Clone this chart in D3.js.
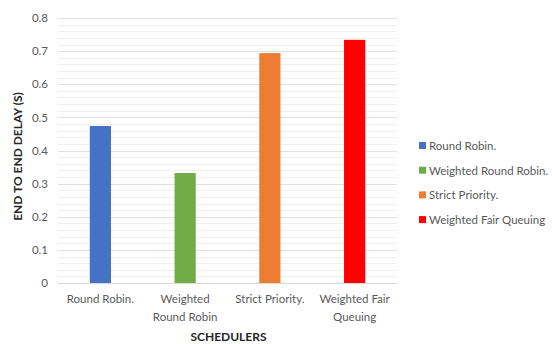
<!DOCTYPE html>
<html><head><meta charset="utf-8">
<script src="https://cdn.jsdelivr.net/npm/d3@7"></script>
<style>body{margin:0;background:#fff}svg{display:block}</style>
</head><body>
<script>
const categories = ["Round Robin.", "Weighted Round Robin", "Strict Priority.", "Weighted Fair Queuing"];
const categoryLines = [["Round Robin."], ["Weighted", "Round Robin"], ["Strict Priority."], ["Weighted Fair", "Queuing"]];
const legendLabels = ["Round Robin.", "Weighted Round Robin.", "Strict Priority.", "Weighted Fair Queuing"];
const values = [0.474, 0.332, 0.694, 0.734];
const colors = ["#4472C4", "#70AD47", "#ED7D31", "#FF0000"];
const yTicks = [0, 0.1, 0.2, 0.3, 0.4, 0.5, 0.6, 0.7, 0.8];
const minorTicks = d3.range(0, 0.8001, 0.02);

const W = 552, H = 344;
const m = {l: 58, r: 155, t: 18, b: 61};
const svg = d3.select("body").append("svg").attr("width", W).attr("height", H);
const font = "Lato, 'Open Sans', sans-serif";

const x = d3.scaleBand().domain(categories).range([m.l, W - m.r]).paddingInner(0.75).paddingOuter(0.375);
const y = d3.scaleLinear().domain([0, 0.8]).range([H - m.b, m.t]);

// minor grid
svg.append("g").selectAll("line").data(minorTicks).join("line")
  .attr("x1", m.l).attr("x2", W - m.r)
  .attr("y1", d => Math.round(y(d)) + 0.5).attr("y2", d => Math.round(y(d)) + 0.5)
  .attr("stroke", "#efefef").attr("stroke-width", 1);
// major grid
svg.append("g").selectAll("line").data(yTicks).join("line")
  .attr("x1", m.l).attr("x2", W - m.r)
  .attr("y1", d => Math.round(y(d)) + 0.5).attr("y2", d => Math.round(y(d)) + 0.5)
  .attr("stroke", d => d === 0 ? "#d9d9d9" : "#e0e0e0").attr("stroke-width", 1);

// y axis labels
const yAxis = d3.axisLeft(y).tickValues(yTicks).tickFormat(d => d === 0 ? "0" : d3.format(".1f")(d)).tickSize(0).tickPadding(10);
const ga = svg.append("g").attr("transform", `translate(${m.l},0)`).call(yAxis);
ga.select(".domain").remove();
ga.selectAll("text").attr("font-family", font).attr("font-size", 11.5).attr("fill", "#595959");

// bars
svg.append("g").selectAll("rect").data(values).join("rect")
  .attr("x", (d, i) => x(categories[i]))
  .attr("width", x.bandwidth())
  .attr("y", d => y(d))
  .attr("height", d => y(0) - y(d))
  .attr("fill", (d, i) => colors[i]);

// x labels
const xl = svg.append("g").selectAll("text").data(categoryLines).join("text")
  .attr("x", (d, i) => x(categories[i]) + x.bandwidth() / 2)
  .attr("y", 303)
  .attr("text-anchor", "middle")
  .attr("font-family", font).attr("font-size", 11.5).attr("fill", "#595959");
xl.selectAll("tspan").data(d => d).join("tspan")
  .attr("x", function() { return this.parentNode.getAttribute("x"); })
  .attr("dy", (d, j) => j === 0 ? 0 : 18)
  .text(d => d);

// axis titles
svg.append("text").attr("x", (m.l + W - m.r) / 2 + 1).attr("y", 341)
  .attr("text-anchor", "middle").attr("font-family", font).attr("font-weight", "bold")
  .attr("font-size", 12).attr("fill", "#262626").text("SCHEDULERS");
svg.append("text").attr("transform", `translate(22,${(m.t + H - m.b) / 2 + 6}) rotate(-90)`)
  .attr("text-anchor", "middle").attr("font-family", font).attr("font-weight", "bold")
  .attr("font-size", 12).attr("fill", "#262626").text("END TO END DELAY (S)");

// legend
const lg = svg.append("g").selectAll("g").data(legendLabels).join("g")
  .attr("transform", (d, i) => `translate(419,${146 + i * 24.7})`);
lg.append("rect").attr("x", 0).attr("y", -4).attr("width", 7).attr("height", 7).attr("fill", (d, i) => colors[i]);
lg.append("text").attr("x", 10).attr("y", 4).attr("font-family", font).attr("font-size", 11.5)
  .attr("fill", "#595959").text(d => d);
</script>
</body></html>
